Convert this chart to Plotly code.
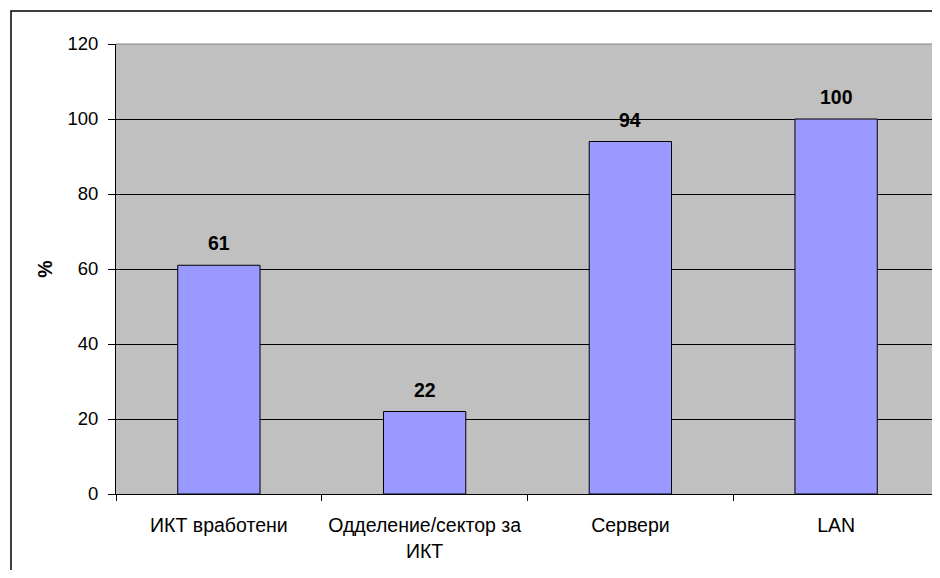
import plotly.graph_objects as go

categories = ["ИКТ вработени", "Одделение/сектор за<br>ИКТ", "Сервери", "LAN"]
values = [61, 22, 94, 100]
y_ticks = [0, 20, 40, 60, 80, 100, 120]

# the page body has an 8px margin; figure is placed at (8, 8)
OFF = 8
W, H = 940 - OFF, 578 - 2 * OFF
L, R, T = 116 - OFF, 1, 44 - OFF
B = H - T - 450
pw = W - L - R
ph = H - T - B

FONT = "Liberation Sans, Arial"
FS = 19.5

fig = go.Figure()
fig.add_trace(go.Bar(
    x=categories, y=values,
    marker=dict(color="#9999FF", line=dict(color="black", width=1)),
    width=0.4,
    hoverinfo="skip",
))

for c, v in zip(categories, values):
    fig.add_annotation(x=c, y=v, text=f"<b>{v}</b>", showarrow=False,
                       yanchor="bottom", yshift=9,
                       font=dict(family=FONT, size=FS, color="black"))

fig.update_layout(
    width=W, height=H,
    margin=dict(l=L, r=R, t=T, b=B, pad=0),
    paper_bgcolor="white",
    plot_bgcolor="#C0C0C0",
    showlegend=False,
    font=dict(family=FONT, size=FS, color="black"),
    xaxis=dict(
        type="category",
        showgrid=False,
        showline=True, linecolor="black", linewidth=1,
        ticks="outside", tickson="boundaries", ticklen=6, tickcolor="black",
        ticklabelstandoff=14,
        tickfont=dict(size=FS),
    ),
    yaxis=dict(
        range=[0, 120], tickvals=y_ticks,
        showgrid=True, gridcolor="black", gridwidth=1,
        showline=True, linecolor="black", linewidth=1,
        ticks="outside", ticklen=7, tickcolor="black",
        ticklabelstandoff=6,
        zeroline=False,
        tickfont=dict(size=18.5),
        title=dict(text="<b>%</b>", font=dict(size=FS), standoff=9),
    ),
)

# plot area border (grey top/right)
fig.add_shape(type="line", xref="paper", yref="paper", x0=0, x1=1, y0=1, y1=1,
              line=dict(color="#808080", width=1), layer="above")
fig.add_shape(type="line", xref="paper", yref="paper", x0=1, x1=1, y0=0, y1=1,
              line=dict(color="#808080", width=1), layer="above")
# outer chart border
fig.add_shape(type="rect", xref="paper", yref="paper",
              x0=(11 - OFF - L) / pw, x1=(W + 5 - L) / pw,
              y0=-(H + 20 - T - ph) / ph, y1=1 + (T - (11 - OFF)) / ph,
              line=dict(color="black", width=1.5), fillcolor="rgba(0,0,0,0)", layer="above")

fig.write_html("out.html")
